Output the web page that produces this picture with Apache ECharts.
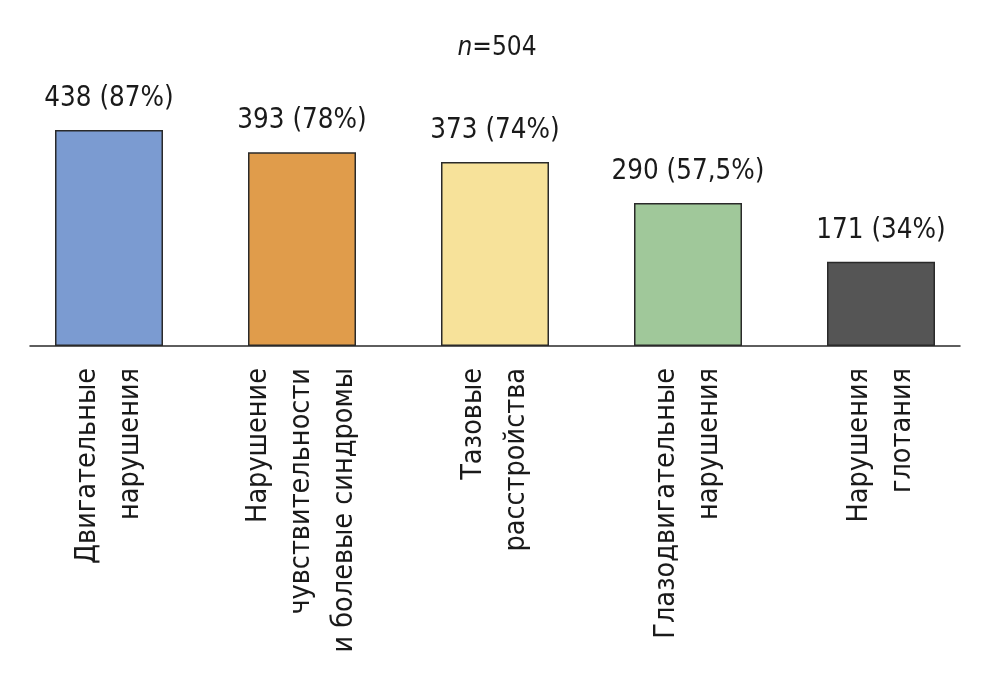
<!DOCTYPE html>
<html><head><meta charset="utf-8">
<script src="https://cdn.jsdelivr.net/npm/echarts@6/dist/echarts.min.js"></script>
<style>html,body{margin:0;padding:0;background:#fff}#c{width:994px;height:688px}</style>
</head><body><div id="c"></div>
<script>
const categories = [
  'Двигательные\nнарушения',
  'Нарушение\nчувствительности\nи болевые синдромы',
  'Тазовые\nрасстройства',
  'Глазодвигательные\nнарушения',
  'Нарушения\nглотания'
];
const counts = [438, 393, 373, 290, 171];
const percents = ['87%', '78%', '74%', '57,5%', '34%'];
const colors = ['#7b9bd1', '#e09c4b', '#f7e29a', '#a0c89a', '#555555'];
const total = 504;

const FONT = "'DejaVu Sans Condensed', 'DejaVu Sans', sans-serif";
const chart = echarts.init(document.getElementById('c'));
chart.setOption({
  backgroundColor: '#fff',
  animation: false,
  title: {
    text: '{i|n}=' + total,
    left: 'center', top: 30,
    textStyle: {
      fontFamily: FONT, fontSize: 26, fontWeight: 'normal', color: '#1a1a1a',
      rich: { i: { fontFamily: FONT, fontSize: 26, fontStyle: 'italic', color: '#1a1a1a' } }
    }
  },
  grid: [
    { left: 12.5, right: 16.5, top: 130, bottom: 342 },
    { left: 30, right: 34, top: 130, bottom: 342 }
  ],
  xAxis: [
    {
      type: 'category', gridIndex: 0, data: categories,
      axisLine: { show: false }, axisTick: { show: false },
      axisLabel: {
        rotate: 90, margin: 22, interval: 0,
        fontFamily: FONT, fontSize: 28.5, lineHeight: 43, color: '#1a1a1a'
      }
    },
    {
      type: 'value', gridIndex: 1, min: 0, max: 1,
      axisLine: { show: true, lineStyle: { color: '#2a2a2a', width: 1.5 } },
      axisTick: { show: false }, axisLabel: { show: false }, splitLine: { show: false }
    }
  ],
  yAxis: [
    { type: 'value', gridIndex: 0, min: 0, max: 438, show: false, splitLine: { show: false } },
    { type: 'value', gridIndex: 1, min: 0, max: 1, show: false, splitLine: { show: false } }
  ],
  series: [{
    type: 'bar', xAxisIndex: 0, yAxisIndex: 0, barWidth: 108,
    data: counts.map((v, i) => ({ value: v, itemStyle: { color: colors[i] } })),
    itemStyle: { borderColor: '#2a2a2a', borderWidth: 1.5 },
    label: {
      show: true, position: 'top', distance: 17,
      fontFamily: FONT, fontSize: 27.5, color: '#1a1a1a',
      formatter: p => counts[p.dataIndex] + ' (' + percents[p.dataIndex] + ')'
    }
  }]
});
</script></body></html>
